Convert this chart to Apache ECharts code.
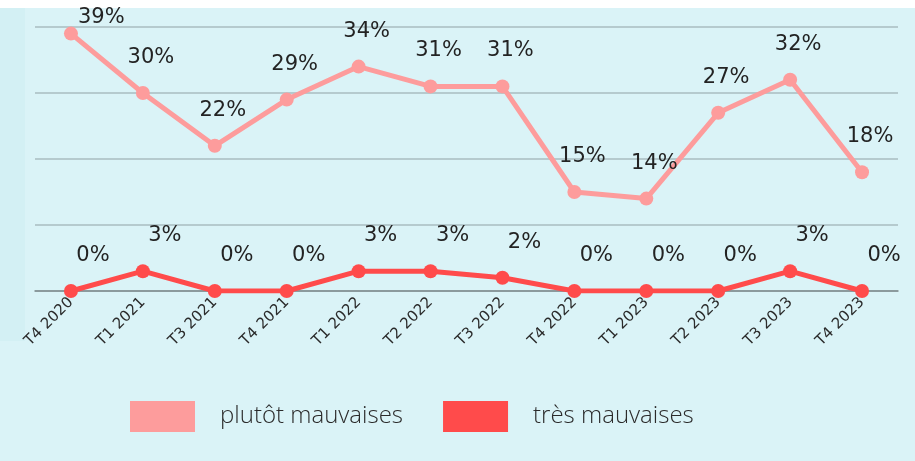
<!DOCTYPE html>
<html>
<head>
<meta charset="utf-8">
<script src="https://cdn.jsdelivr.net/npm/echarts@6/dist/echarts.min.js"></script>
<style>
  html, body { margin: 0; padding: 0; background: #fff; }
  #chart { width: 915px; height: 461px; }
</style>
</head>
<body>
<div id="chart"></div>
<script>
// quarters
const quarters = ["T4 2020", "T1 2021", "T3 2021", "T4 2021", "T1 2022", "T2 2022",
  "T3 2022", "T4 2022", "T1 2023", "T2 2023", "T3 2023", "T4 2023"];
// share of answers, in %
const plutotMauvaises = [39, 30, 22, 29, 34, 31, 31, 15, 14, 27, 32, 18];
const tresMauvaises = [0, 3, 0, 0, 3, 3, 2, 0, 0, 0, 3, 0];
const seriesNames = ["plutôt mauvaises", "très mauvaises"];

const colorList = ["#fd9c9c", "#ff4b4b"];
const labelFont = "'DejaVu Sans', 'Noto Sans', sans-serif";

const chart = echarts.init(document.getElementById("chart"));

function lineSeries(name, data, color, dx) {
  return {
    name: name,
    type: "line",
    // the top-most label sits beside its point so it stays inside the frame
    data: data.map((v) =>
      v >= 38 ? { value: v, label: { position: [14, -20], offset: [0, 0] } } : v
    ),
    symbol: "circle",
    symbolSize: 14,
    z: name === seriesNames[1] ? 4 : 3,
    lineStyle: { width: 5, color: color },
    itemStyle: { color: color },
    label: {
      show: true,
      position: "top",
      distance: 18,
      offset: [dx, 0],
      formatter: "{c}%",
      color: "#232323",
      fontSize: 21,
      fontFamily: labelFont,
    },
  };
}

chart.setOption({
  backgroundColor: "#daf3f7",
  animation: false,
  graphic: [
    // white strip on top
    { type: "rect", left: 0, top: 0, shape: { width: 915, height: 8 }, style: { fill: "#ffffff" }, z: -1 },
    // slightly darker band on the left
    { type: "rect", left: 0, top: 8, shape: { width: 25, height: 333 }, style: { fill: "#d3f0f4" }, z: -1 },
  ],
  legend: {
    left: 125,
    top: 396,
    itemWidth: 65,
    itemHeight: 31,
    itemGap: 40,
    icon: "rect",
    data: seriesNames,
    textStyle: {
      color: "#2b2b2b",
      fontSize: 24,
      fontFamily: "'Open Sans', sans-serif",
      fontWeight: 300,
      padding: [0, 0, 0, 20],
    },
  },
  grid: {
    top: 27,
    bottom: 170,
    left: 35,
    right: 17,
  },
  xAxis: {
    type: "category",
    data: quarters,
    boundaryGap: true,
    axisLine: { show: true, lineStyle: { color: "#7d8a8d", width: 1.5 } },
    axisTick: { show: false },
    axisLabel: {
      interval: 0,
      rotate: 45,
      margin: 9,
      color: "#2b2b2b",
      fontSize: 15,
      fontFamily: labelFont,
    },
  },
  yAxis: {
    type: "value",
    min: 0,
    max: 40,
    interval: 10,
    axisLine: { show: false },
    axisTick: { show: false },
    axisLabel: { show: false },
    splitLine: { lineStyle: { color: "#a9bcc0", width: 1.5 } },
  },
  series: [
    lineSeries(seriesNames[0], plutotMauvaises, colorList[0], 8),
    lineSeries(seriesNames[1], tresMauvaises, colorList[1], 22),
  ],
});
</script>
</body>
</html>
